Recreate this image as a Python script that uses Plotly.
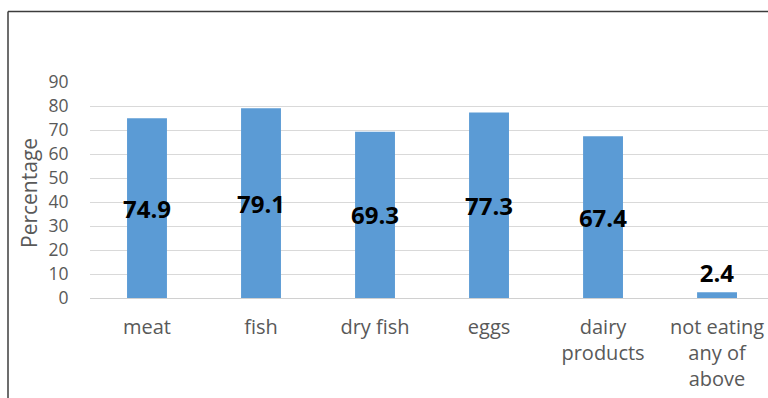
import plotly.graph_objects as go

categories = ["meat", "fish", "dry fish", "eggs", "dairy<br>products", "not eating<br>any of<br>above"]
values = [74.9, 79.1, 69.3, 77.3, 67.4, 2.4]
label_pos = ["inside", "inside", "inside", "inside", "inside", "outside"]
y_ticks = [0, 10, 20, 30, 40, 50, 60, 70, 80, 90]

FONT = "Open Sans"
GRAY = "#595959"

fig = go.Figure()
fig.add_trace(go.Bar(
    x=list(range(len(categories))),
    y=values,
    width=0.35,
    marker=dict(color="#5b9bd5", line=dict(width=0)),
    text=[f"{v:.1f}" for v in values],
    textposition=label_pos,
    insidetextanchor="middle",
    textangle=0,
    constraintext="none",
    cliponaxis=False,
    textfont=dict(family=FONT, size=24, color="#000000", weight="bold"),
))

fig.update_layout(
    width=768, height=398,
    margin=dict(l=90, r=0, t=82, b=100),
    paper_bgcolor="white", plot_bgcolor="white",
    showlegend=False,
    xaxis=dict(
        tickmode="array",
        tickvals=list(range(len(categories))),
        ticktext=categories,
        range=[-0.5, 5.447],
        showgrid=False, zeroline=False, showline=False,
        ticks="outside", ticklen=11, tickcolor="rgba(0,0,0,0)",
        tickfont=dict(family=FONT, size=20, color=GRAY),
    ),
    yaxis=dict(
        range=[0, 90],
        tickmode="array", tickvals=y_ticks,
        showgrid=True, gridcolor="#d9d9d9", gridwidth=1,
        zeroline=True, zerolinecolor="#d0d0d0", zerolinewidth=1,
        showline=False,
        ticks="outside", ticklen=17, tickcolor="rgba(0,0,0,0)",
        tickfont=dict(family=FONT, size=17.5, color=GRAY),
    ),
    annotations=[dict(
        text="Percentage", xref="paper", yref="paper",
        x=(29 - 90) / 678, y=(298 - 193) / 216,
        xanchor="center", yanchor="middle", textangle=-90, showarrow=False,
        font=dict(family=FONT, size=21, color=GRAY),
    )],
    shapes=[
        dict(type="line", xref="paper", yref="paper",
             x0=(8 - 90) / 678, x1=(8 - 90) / 678, y0=(298 - 11.5) / 216, y1=(298 - 420) / 216,
             line=dict(color="#3c3c3c", width=1.5)),
        dict(type="line", xref="paper", yref="paper",
             x0=(8 - 90) / 678, x1=1.05, y0=(298 - 11.5) / 216, y1=(298 - 11.5) / 216,
             line=dict(color="#3c3c3c", width=1.5)),
    ],
)

fig.write_html("out.html")
